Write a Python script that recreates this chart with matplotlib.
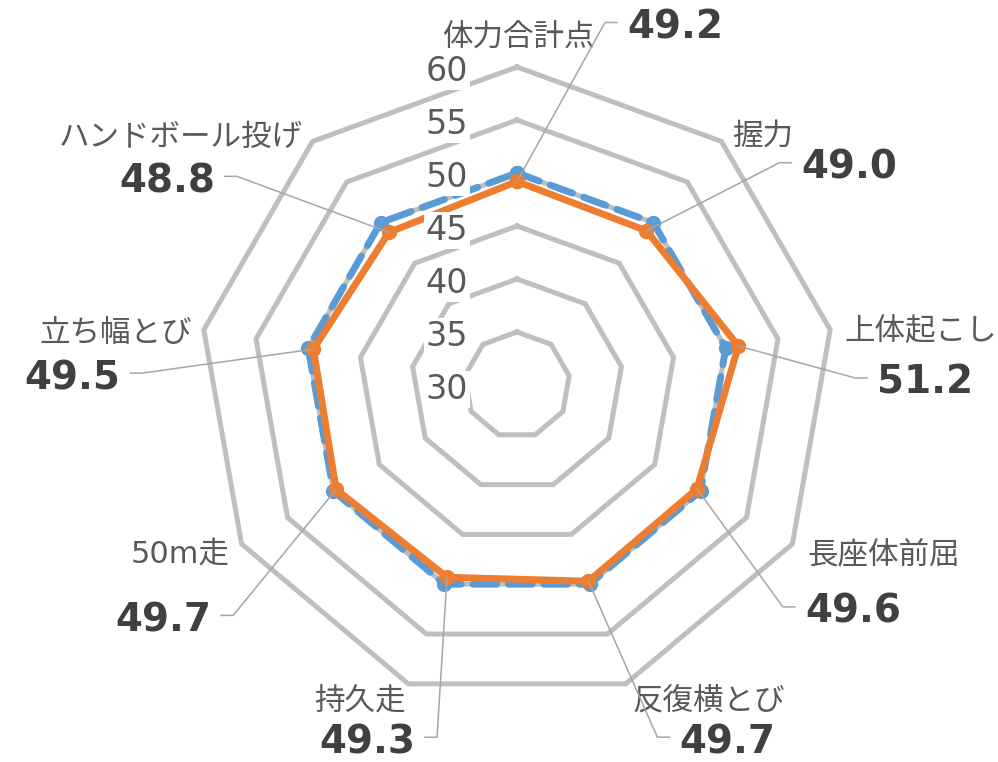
import numpy as np
import matplotlib
matplotlib.use('Agg')
import matplotlib.pyplot as plt
from matplotlib.lines import Line2D
from matplotlib.transforms import IdentityTransform

# ---- data ----
categories = ['体力合計点', '握力', '上体起こし', '長座体前屈', '反復横とび',
              '持久走', '50m走', '立ち幅とび', 'ハンドボール投げ']
school_values = [49.2, 49.0, 51.2, 49.6, 49.7, 49.3, 49.7, 49.5, 48.8]
national_values = [50, 50, 50, 50, 50, 50, 50, 50, 50]
ring_values = [30, 35, 40, 45, 50, 55, 60]
tick_labels = ['30', '35', '40', '45', '50', '55', '60']

# ---- layout (pixels, screen y down) ----
# knee of leader line relative to data point, and side of label
label_knee = [(88, -159), (133, -68), (117, 32), (86, 118), (69, 156),
              (-10, 160), (-103, 126), (-171, 24), (-152, -56)]
label_side = [1, 1, 1, 1, 1, -1, -1, -1, -1]
# category label centre offsets relative to outer vertex
cat_offset = [(1, -33), (11, -9), (14, -1), (15, 8), (7, 14),
              (-3, 15), (-12, 8), (-12, 0), (-10, -7)]
cat_ha = ['center', 'left', 'left', 'left', 'left', 'right', 'right', 'right', 'right']

plt.rcParams['font.family'] = ['DejaVu Sans', 'Noto Sans CJK JP']

W, H = 998, 762
fig = plt.figure(figsize=(W / 100, H / 100), dpi=100)
cx, cy, R = 517, 385, 318
ax = fig.add_axes([(cx - R) / W, (H - cy - R) / H, 2 * R / W, 2 * R / H],
                  projection='polar')
ax.set_theta_offset(np.pi / 2)
ax.set_theta_direction(-1)
ax.set_ylim(ring_values[0], ring_values[-1])
ax.grid(False)
ax.spines['polar'].set_visible(False)
ax.set_xticks([])
ax.set_yticks([])
ax.patch.set_visible(False)

n = len(categories)
theta = np.arange(n) * 2 * np.pi / n
theta_c = np.append(theta, theta[0])

grid_color = '#BFBFBF'
for r in ring_values[1:]:
    ax.plot(theta_c, [r] * (n + 1), color=grid_color, lw=3.6,
            solid_joinstyle='miter', zorder=1, clip_on=False)

nv = national_values + national_values[:1]
sv = school_values + school_values[:1]
ax.plot(theta_c, nv, color='#5B9BD5', lw=5, ls=(0, (3.4, 1.7)),
        dash_capstyle='round', marker='o', ms=10, zorder=3, clip_on=False)
ax.plot(theta_c, sv, color='#ED7D31', lw=5, marker='o', ms=10,
        solid_joinstyle='round', zorder=4, clip_on=False)

# radial tick labels
for r, t in zip(ring_values, tick_labels):
    ax.annotate(t, xy=(0, r), xytext=(-49, -14), textcoords='offset pixels',
                ha='right', va='baseline', fontsize=24, color='#595959',
                bbox=dict(boxstyle='square,pad=0.05', fc='white', ec='none'),
                zorder=6, annotation_clip=False)

# category labels
for k in range(n):
    dx, dy = cat_offset[k]
    ax.annotate(categories[k], xy=(theta[k], ring_values[-1]),
                xytext=(dx, -(dy + 12)),
                textcoords='offset pixels', ha=cat_ha[k], va='baseline',
                fontsize=22, color='#595959', zorder=7, annotation_clip=False)

# value labels with leader lines
pts = ax.transData.transform(np.column_stack([theta, school_values]))
for k in range(n):
    px, py = pts[k]
    dx, dy = label_knee[k]
    side = label_side[k]
    kx, ky = px + dx, py - dy
    fig.add_artist(Line2D([px, kx, kx + side * 12], [py, ky, ky],
                          transform=IdentityTransform(), color='#A6A6A6',
                          lw=1.1, zorder=8))
    fig.text(kx + side * 22, ky - 16, f'{school_values[k]:.1f}',
             transform=IdentityTransform(),
             ha='left' if side > 0 else 'right', va='baseline',
             fontsize=28, fontweight='bold', color='#404040', zorder=9)

fig.savefig('out.png', dpi=100)
